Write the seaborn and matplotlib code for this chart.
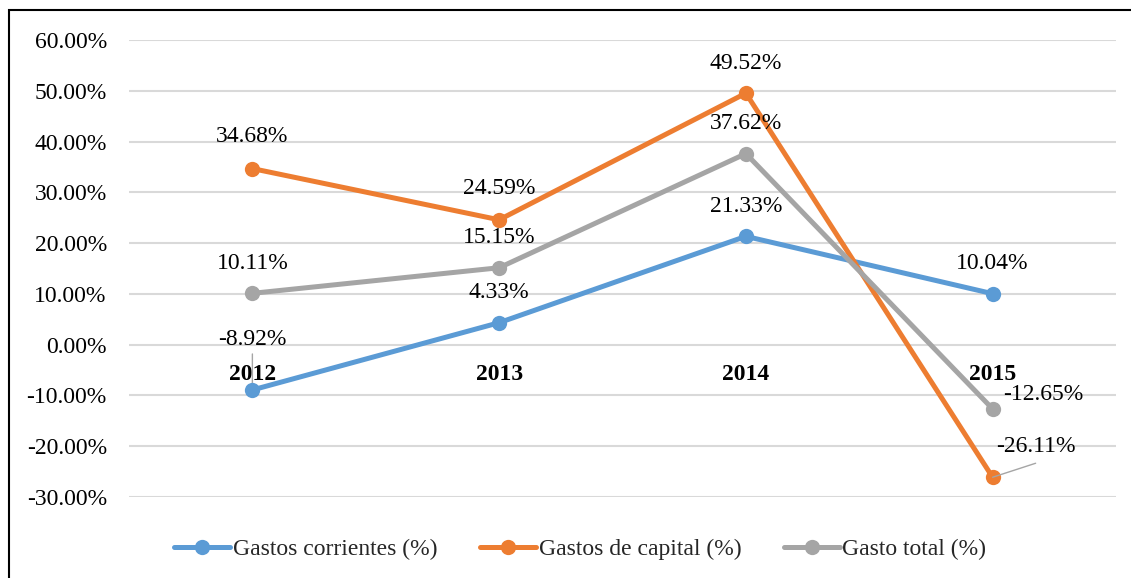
import matplotlib
matplotlib.use("Agg")
import matplotlib.pyplot as plt
import seaborn as sns
import pandas as pd
from matplotlib.lines import Line2D
from matplotlib.patches import Rectangle
from matplotlib.ticker import FuncFormatter

years = ["2012", "2013", "2014", "2015"]
series_names = ["Gastos corrientes (%)", "Gastos de capital (%)", "Gasto total (%)"]
corrientes = [-8.92, 4.33, 21.33, 10.04]
capital = [34.68, 24.59, 49.52, -26.11]
total = [10.11, 15.15, 37.62, -12.65]
colors = ["#5B9BD5", "#ED7D31", "#A5A5A5"]
y_ticks = [-30, -20, -10, 0, 10, 20, 30, 40, 50, 60]

sns.set_theme(style="white")
plt.rcParams["font.family"] = ["Liberation Serif", "DejaVu Serif"]

rows = []
for name, vals in zip(series_names, [corrientes, capital, total]):
    for i, v in enumerate(vals):
        rows.append({"x": i, "year": years[i], "value": v, "serie": name})
df = pd.DataFrame(rows)

FS = 17
W, H = 1131, 578
fig = plt.figure(figsize=(W / 100, H / 100), dpi=100)
ax = fig.add_axes([129 / W, 1 - 497 / H, (1116 - 129) / W, (497 - 40) / H])

# gridlines
for t in y_ticks:
    ax.axhline(t, color="#D9D9D9", lw=1.5, zorder=0)

sns.lineplot(data=df, x="x", y="value", hue="serie", hue_order=series_names,
             palette=colors, marker="o", markersize=11, markeredgewidth=0,
             linewidth=3.6, legend=False, ax=ax, zorder=3)

ax.set_xlim(-0.5, 3.5)
ax.set_ylim(-30, 60)
ax.set_yticks(y_ticks)
ax.yaxis.set_major_formatter(FuncFormatter(lambda v, p: f"{v:.2f}%"))
ax.tick_params(axis="y", labelsize=FS, length=0, pad=16, colors="black")
ax.set_xticks([])
ax.set_xlabel("")
ax.set_ylabel("")
for s in ax.spines.values():
    s.set_visible(False)

# category labels at the zero line
for i, yr in enumerate(years):
    ax.annotate(yr, xy=(i, 0), xytext=(0, -30), textcoords="offset pixels",
                ha="center", va="center", fontsize=FS, fontweight="bold",
                color="black", zorder=2)

# data labels
offsets = {
    0: [(0, 0, 50), (1, 0, 30), (2, 0, 30), (3, 0, 30)],
    1: [(0, 0, 32), (1, 0, 31), (2, 0, 30), (3, 43, 31)],
    2: [(0, 0, 30), (1, 0, 30), (2, 0, 30), (3, 51, 14)],
}
all_vals = [corrientes, capital, total]
for si, lst in offsets.items():
    for i, dx, dy in lst:
        v = all_vals[si][i]
        ax.annotate(f"{v:.2f}%", xy=(i, v), xytext=(dx, dy),
                    textcoords="offset pixels", ha="center", va="center",
                    fontsize=FS, color="black", zorder=4)

# leader lines
ax.annotate("", xy=(0, corrientes[0]), xytext=(0, 36), textcoords="offset pixels",
            arrowprops=dict(arrowstyle="-", color="#A5A5A5", lw=1, shrinkA=0, shrinkB=0),
            zorder=2)
ax.annotate("", xy=(3, capital[3]), xytext=(43, 14), textcoords="offset pixels",
            arrowprops=dict(arrowstyle="-", color="#A5A5A5", lw=1, shrinkA=0, shrinkB=0),
            zorder=4)

# legend
handles = [Line2D([0], [0], color=c, lw=3.6, marker="o", markersize=11,
                  markeredgewidth=0) for c in colors]
fig.legend(handles, series_names, loc="center", bbox_to_anchor=(0.513, 1 - 549 / H),
           ncol=3, frameon=False, fontsize=FS, handlelength=2.37, handletextpad=0.12,
           columnspacing=1.8)

# outer border
fig.add_artist(Rectangle((9 / W, -0.1), 1.2, (1 - 10.5 / H) + 0.1, fill=False,
                         transform=fig.transFigure, lw=1.5, ec="black"))

fig.savefig("out.png", dpi=100)
